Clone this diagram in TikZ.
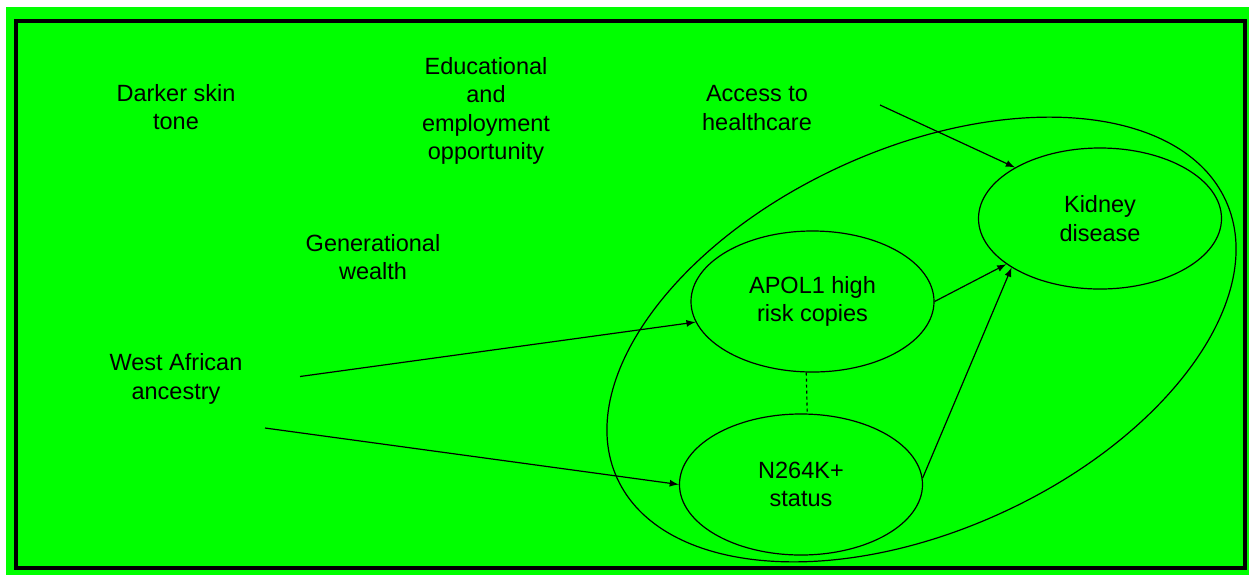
\documentclass[tikz,border=0pt]{standalone}
\usepackage{fontspec}
\setmainfont{Liberation Sans}
\usepackage{tikz}
\usetikzlibrary{arrows,positioning,calc,shapes.geometric}
\definecolor{bggreen}{RGB}{0,255,0}

\begin{document}
\begin{tikzpicture}[x=0.5pt,y=-0.5pt,>=latex,
    every node/.style={font=\fontsize{11.75}{14.2}\selectfont, align=center},
    oval/.style={draw, ellipse, line width=0.6pt, minimum width=121.5pt, minimum height=70.5pt, inner sep=0pt},
    link/.style={->, line width=0.6pt}]
            \useasboundingbox (0,0) rectangle (1249,575);
            \fill[bggreen] (6,7) rectangle (1249,575);
            \draw[line width=2pt] (15.5,21) rectangle (1245,568);
            % factors without arrows
            \node (skin) at (176,107) {Darker skin\\tone};
            \node (edu) at (486,111) {Educational\\and\\employment\\opportunity};
            \node (access) at (757,108) {Access to\\healthcare};
            \node (wealth) at (373,257) {Generational\\wealth};
            \node (ancestry) at (176,379) {West African\\ancestry};
            % ovals
            \node[oval] (apol) at (812.5,301.5) {APOL1 high\\risk copies};
            \node[oval] (kidney) at (1100,218.5) {Kidney\\disease};
            \node[oval] (n264) at (801,484.5) {N264K+\\status};
            \node[draw, ellipse, line width=0.6pt, rotate=24.5, minimum width=334.5pt, minimum height=191pt, inner sep=0pt] (grp) at (921.5,339.5) {};
            \coordinate (a1) at (300,376.5);
            \coordinate (a2) at (265,428);
            \coordinate (h1) at (880,105);
            \draw[link] (a1) -- (apol.190);
            \draw[link] (a2) -- (n264.west);
            \draw[link] (h1) -- (kidney.149);
            \draw[link] (apol.east) -- (kidney.206);
            \draw[link] (n264.3) -- (kidney.209);
            \draw[line width=0.6pt, dash pattern=on 1.5pt off 1.5pt] (apol.265) -- (n264.85);
        \end{tikzpicture}
\end{document}
